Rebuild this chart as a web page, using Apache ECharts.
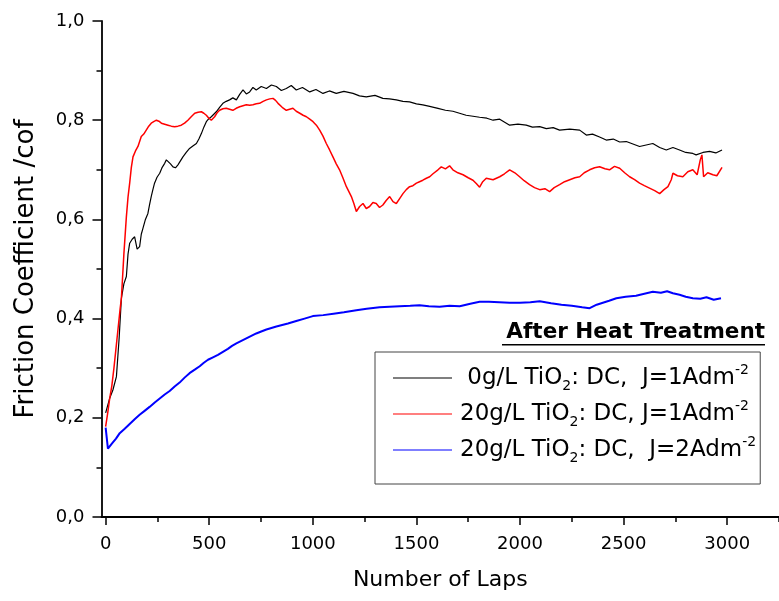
<!DOCTYPE html>
<html>
<head>
<meta charset="utf-8">
<script src="https://cdn.jsdelivr.net/npm/echarts@6/dist/echarts.min.js"></script>
<style>
  html, body { margin: 0; padding: 0; background: #fff; }
  #chart { width: 779px; height: 601px; }
</style>
</head>
<body>
<div id="chart"></div>
<script>
// series names (legend)
const seriesNames = [
  " 0g/L TiO2: DC,  J=1Adm-2",
  "20g/L TiO2: DC, J=1Adm-2",
  "20g/L TiO2: DC,  J=2Adm-2"
];
const seriesColors = ["#000000", "#ff0000", "#0000ff"];

// 0g/L, J=1 (black)
const lapsBlack = [0, 10, 20, 35, 52, 65, 76, 88, 100, 108, 116, 128, 140, 152, 164, 172, 180, 192, 204, 212, 220, 228, 236, 248, 261, 273, 285, 293, 301, 313, 325, 337, 349, 361, 373, 389, 405, 421, 438, 450, 462, 474, 486, 498, 510, 522, 534, 550, 566, 582, 598, 614, 631, 647, 663, 679, 695, 711, 727, 751, 776, 800, 824, 848, 872, 896, 920, 950, 985, 1015, 1049, 1080, 1113, 1150, 1194, 1225, 1258, 1300, 1338, 1370, 1403, 1435, 1467, 1500, 1531, 1564, 1604, 1640, 1676, 1708, 1740, 1773, 1805, 1840, 1870, 1902, 1930, 1950, 1990, 2030, 2060, 2095, 2127, 2160, 2191, 2240, 2288, 2320, 2350, 2384, 2416, 2450, 2481, 2513, 2545, 2577, 2609, 2641, 2674, 2706, 2738, 2770, 2800, 2834, 2850, 2883, 2915, 2945, 2975];
const cofBlack = [0.21, 0.225, 0.24, 0.256, 0.283, 0.36, 0.441, 0.47, 0.485, 0.53, 0.552, 0.56, 0.565, 0.54, 0.545, 0.57, 0.582, 0.6, 0.612, 0.63, 0.646, 0.66, 0.673, 0.685, 0.693, 0.705, 0.713, 0.72, 0.723, 0.712, 0.706, 0.704, 0.71, 0.718, 0.726, 0.735, 0.743, 0.748, 0.753, 0.762, 0.773, 0.786, 0.797, 0.803, 0.807, 0.812, 0.817, 0.826, 0.834, 0.838, 0.841, 0.845, 0.841, 0.852, 0.861, 0.853, 0.857, 0.866, 0.861, 0.868, 0.864, 0.871, 0.868, 0.86, 0.864, 0.87, 0.861, 0.866, 0.857, 0.862, 0.854, 0.859, 0.854, 0.858, 0.854, 0.849, 0.847, 0.85, 0.844, 0.843, 0.841, 0.838, 0.837, 0.833, 0.831, 0.828, 0.824, 0.82, 0.818, 0.814, 0.81, 0.808, 0.806, 0.804, 0.8, 0.802, 0.795, 0.79, 0.792, 0.79, 0.786, 0.787, 0.783, 0.785, 0.78, 0.782, 0.78, 0.77, 0.772, 0.766, 0.76, 0.762, 0.756, 0.757, 0.752, 0.747, 0.75, 0.753, 0.745, 0.74, 0.745, 0.74, 0.735, 0.733, 0.73, 0.735, 0.737, 0.734, 0.74];

// 20g/L, J=1 (red)
const lapsRed = [0, 10, 20, 30, 40, 50, 60, 70, 76, 88, 100, 108, 116, 124, 132, 144, 156, 164, 172, 184, 196, 208, 220, 232, 245, 257, 269, 285, 301, 317, 333, 349, 365, 381, 397, 413, 430, 446, 462, 474, 486, 498, 510, 518, 526, 538, 550, 566, 582, 598, 614, 630, 647, 663, 679, 695, 711, 727, 743, 760, 776, 792, 808, 820, 832, 852, 872, 888, 904, 920, 937, 953, 969, 985, 1001, 1017, 1033, 1049, 1065, 1081, 1097, 1113, 1129, 1145, 1162, 1174, 1186, 1198, 1210, 1226, 1242, 1258, 1274, 1290, 1306, 1322, 1338, 1354, 1371, 1387, 1403, 1419, 1435, 1451, 1467, 1483, 1500, 1515, 1531, 1548, 1564, 1580, 1604, 1620, 1640, 1660, 1676, 1700, 1725, 1750, 1773, 1790, 1805, 1820, 1837, 1870, 1902, 1925, 1950, 1975, 1998, 2020, 2046, 2070, 2095, 2120, 2143, 2165, 2191, 2215, 2240, 2265, 2288, 2310, 2336, 2360, 2384, 2410, 2432, 2456, 2481, 2505, 2529, 2553, 2577, 2600, 2625, 2650, 2674, 2695, 2714, 2730, 2738, 2760, 2786, 2810, 2834, 2855, 2870, 2878, 2886, 2906, 2931, 2950, 2975];
const cofRed = [0.182, 0.21, 0.24, 0.265, 0.3, 0.34, 0.38, 0.42, 0.441, 0.53, 0.605, 0.645, 0.673, 0.705, 0.726, 0.738, 0.747, 0.757, 0.767, 0.772, 0.78, 0.788, 0.794, 0.797, 0.8, 0.798, 0.794, 0.792, 0.79, 0.788, 0.787, 0.788, 0.79, 0.794, 0.8, 0.807, 0.814, 0.816, 0.817, 0.814, 0.81, 0.804, 0.8, 0.803, 0.807, 0.815, 0.82, 0.823, 0.824, 0.822, 0.82, 0.824, 0.827, 0.829, 0.831, 0.83, 0.831, 0.833, 0.834, 0.838, 0.841, 0.843, 0.844, 0.84, 0.834, 0.826, 0.82, 0.822, 0.824, 0.818, 0.814, 0.81, 0.807, 0.802, 0.797, 0.79, 0.78, 0.768, 0.753, 0.74, 0.726, 0.712, 0.7, 0.684, 0.666, 0.656, 0.646, 0.632, 0.616, 0.626, 0.632, 0.622, 0.626, 0.634, 0.632, 0.624, 0.629, 0.638, 0.646, 0.636, 0.632, 0.642, 0.652, 0.66, 0.666, 0.668, 0.673, 0.676, 0.679, 0.683, 0.686, 0.692, 0.7, 0.706, 0.702, 0.708, 0.7, 0.694, 0.69, 0.684, 0.679, 0.672, 0.665, 0.676, 0.683, 0.68, 0.686, 0.692, 0.7, 0.694, 0.686, 0.678, 0.67, 0.664, 0.66, 0.662, 0.656, 0.664, 0.67, 0.676, 0.68, 0.684, 0.686, 0.694, 0.7, 0.704, 0.706, 0.702, 0.7, 0.707, 0.703, 0.694, 0.686, 0.68, 0.673, 0.668, 0.663, 0.658, 0.652, 0.66, 0.666, 0.68, 0.693, 0.688, 0.686, 0.696, 0.7, 0.69, 0.72, 0.73, 0.686, 0.694, 0.69, 0.688, 0.705];

// 20g/L, J=2 (blue)
const lapsBlue = [0, 11, 30, 50, 68, 92, 116, 140, 164, 188, 212, 237, 261, 285, 309, 333, 357, 381, 405, 430, 454, 474, 494, 518, 542, 566, 590, 610, 631, 655, 679, 703, 727, 751, 776, 800, 824, 852, 880, 920, 960, 1000, 1050, 1100, 1150, 1210, 1260, 1322, 1370, 1419, 1470, 1515, 1560, 1612, 1660, 1709, 1760, 1805, 1850, 1900, 1950, 2000, 2050, 2095, 2150, 2200, 2250, 2300, 2336, 2370, 2400, 2430, 2465, 2510, 2560, 2600, 2641, 2680, 2710, 2738, 2770, 2800, 2834, 2870, 2900, 2935, 2970];
const cofBlue = [0.18, 0.138, 0.148, 0.158, 0.169, 0.178, 0.1875, 0.197, 0.206, 0.214, 0.222, 0.231, 0.239, 0.247, 0.254, 0.263, 0.271, 0.281, 0.29, 0.297, 0.304, 0.311, 0.317, 0.322, 0.327, 0.333, 0.339, 0.345, 0.35, 0.355, 0.36, 0.365, 0.37, 0.374, 0.378, 0.381, 0.384, 0.387, 0.39, 0.395, 0.4, 0.405, 0.407, 0.41, 0.413, 0.417, 0.42, 0.423, 0.424, 0.425, 0.426, 0.427, 0.425, 0.424, 0.426, 0.425, 0.43, 0.434, 0.434, 0.433, 0.432, 0.432, 0.433, 0.435, 0.431, 0.428, 0.426, 0.423, 0.421, 0.428, 0.432, 0.436, 0.441, 0.444, 0.446, 0.45, 0.454, 0.452, 0.455, 0.451, 0.448, 0.444, 0.441, 0.44, 0.443, 0.438, 0.441];

// axis ticks
const xMajorTicks = [0, 500, 1000, 1500, 2000, 2500, 3000];
const xMinorTicks = [250, 750, 1250, 1750, 2250, 2750, 3250];

const FONT = "DejaVu Sans";

function pairs(xs, ys) {
  return xs.map((x, i) => [x, ys[i]]);
}

function richName(name) {
  return name.replace("TiO2", "TiO{sub|2}").replace(/Adm-2$/, "Adm{sup|-2}");
}

let myChart = echarts.init(document.getElementById("chart"));

let option = {
  animation: false,
  backgroundColor: "#ffffff",
  grid: {
    left: 101.5,
    right: 0,
    top: 21,
    bottom: 84,
    containLabel: false
  },
  legend: {
    orient: "vertical",
    left: 375,
    top: 352,
    padding: [11, 4, 19, 18],
    itemGap: 6,
    itemWidth: 59,
    itemHeight: 1.2,
    icon: "rect",
    borderColor: "#444",
    borderWidth: 1,
    data: seriesNames,
    formatter: richName,
    textStyle: {
      fontFamily: FONT,
      fontSize: 23,
      color: "#000",
      lineHeight: 30,
      padding: [0, 0, 0, 3],
      rich: {
        sub: { fontFamily: FONT, fontSize: 14, lineHeight: 14, verticalAlign: "bottom", color: "#000" },
        sup: { fontFamily: FONT, fontSize: 14, lineHeight: 16, verticalAlign: "top", color: "#000" }
      }
    }
  },
  graphic: [
    {
      type: "text",
      right: 14,
      top: 321,
      style: {
        text: "After Heat Treatment",
        font: "bold 21.5px 'DejaVu Sans'",
        fill: "#000"
      }
    },
    {
      type: "rect",
      left: 502,
      top: 344,
      shape: { width: 263, height: 1.5 },
      style: { fill: "#000" }
    }
  ],
  xAxis: [
    {
      type: "value",
      min: -20,
      max: 3250,
      name: "Number of Laps",
      nameLocation: "middle",
      nameGap: 52,
      nameTextStyle: { fontFamily: FONT, fontSize: 22, color: "#000" },
      axisLine: { show: true, onZero: false, lineStyle: { color: "#000", width: 1.8 } },
      axisTick: { show: true, length: 8, lineStyle: { color: "#000", width: 1.5 }, customValues: xMajorTicks },
      axisLabel: {
        show: true,
        margin: 18,
        fontFamily: FONT,
        fontSize: 18,
        color: "#000",
        customValues: xMajorTicks,
        formatter: v => String(v)
      },
      splitLine: { show: false }
    },
    {
      type: "value",
      min: -20,
      max: 3250,
      position: "bottom",
      axisLine: { show: false, onZero: false },
      axisTick: { show: true, length: 5, lineStyle: { color: "#000", width: 1.5 }, customValues: xMinorTicks },
      axisLabel: { show: false },
      splitLine: { show: false }
    }
  ],
  yAxis: {
    type: "value",
    min: 0,
    max: 1,
    interval: 0.2,
    name: "Friction Coefficient /cof",
    nameLocation: "middle",
    nameGap: 62,
    nameTextStyle: { fontFamily: FONT, fontSize: 26, color: "#000" },
    axisLine: { show: true, onZero: false, lineStyle: { color: "#000", width: 1.8 } },
    axisTick: { show: true, length: 9, lineStyle: { color: "#000", width: 1.5 } },
    minorTick: { show: true, splitNumber: 2, length: 5, lineStyle: { color: "#000", width: 1.5 } },
    axisLabel: {
      margin: 17,
      fontFamily: FONT,
      fontSize: 18,
      color: "#000",
      formatter: v => v.toFixed(1).replace(".", ",")
    },
    splitLine: { show: false }
  },
  series: [
    {
      name: seriesNames[0],
      type: "line",
      data: pairs(lapsBlack, cofBlack),
      symbol: "none",
      color: seriesColors[0],
      lineStyle: { width: 1.2, color: seriesColors[0] }
    },
    {
      name: seriesNames[1],
      type: "line",
      data: pairs(lapsRed, cofRed),
      symbol: "none",
      color: seriesColors[1],
      lineStyle: { width: 1.5, color: seriesColors[1] }
    },
    {
      name: seriesNames[2],
      type: "line",
      data: pairs(lapsBlue, cofBlue),
      symbol: "none",
      color: seriesColors[2],
      lineStyle: { width: 2, color: seriesColors[2] }
    }
  ]
};

myChart.setOption(option);
</script>
</body>
</html>
